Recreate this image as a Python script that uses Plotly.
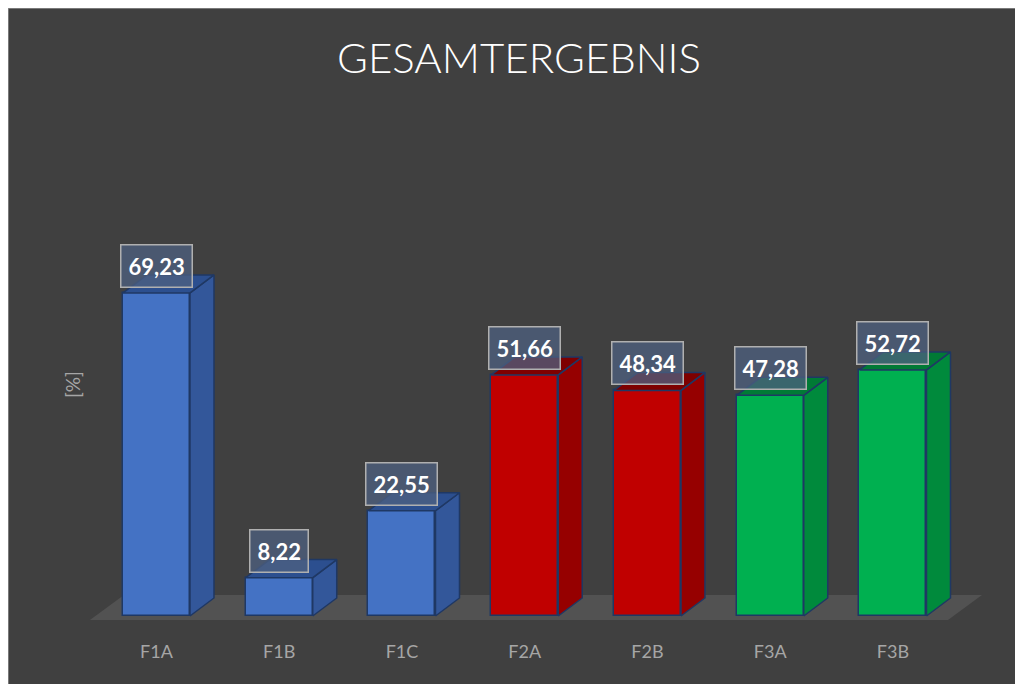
import plotly.graph_objects as go

# ---- data ----
categories = ["F1A", "F1B", "F1C", "F2A", "F2B", "F3A", "F3B"]
values = [69.23, 8.22, 22.55, 51.66, 48.34, 47.28, 52.72]
front_colors = ["#4472c4", "#4472c4", "#4472c4", "#c00000", "#c00000", "#00b050", "#00b050"]
side_colors = ["#33579a", "#33579a", "#33579a", "#960000", "#960000", "#008a3c", "#008a3c"]
top_colors = ["#2c4f8f", "#2c4f8f", "#2c4f8f", "#7e0000", "#7e0000", "#007a35", "#007a35"]
title_text = "GESAMTERGEBNIS"
y_title = "[%]"

# ---- geometry (pixel layout; page body adds an 8px offset) ----
OFF = 8
W_FIG, H_FIG = 1023 - OFF, 684 - OFF
M_L, M_T = 60 - OFF, 100 - OFF
PW, PH = 923, 530
M_R = W_FIG - M_L - PW
M_B = H_FIG - M_T - PH
X_RANGE = [-0.786, -0.786 + PW / 122.75]
Y_RANGE = [-3.0, -3.0 + PH / 4.667]
BAR_W = 0.546
DX = 0.1955      # depth offset in x units
DY = 3.86        # depth offset in y units
OUTLINE = "#1f3864"

xs = list(range(len(categories)))

fig = go.Figure()

# front faces
fig.add_trace(go.Bar(
    x=xs, y=values, width=BAR_W,
    marker=dict(color=front_colors, line=dict(color=OUTLINE, width=1.5)),
    hoverinfo="skip", showlegend=False,
))

# side and top faces
for i, v in enumerate(values):
    x0 = xs[i] - BAR_W / 2
    x1 = xs[i] + BAR_W / 2
    fig.add_trace(go.Scatter(
        x=[x1, x1 + DX, x1 + DX, x1, x1], y=[0, DY, v + DY, v, 0],
        fill="toself", fillcolor=side_colors[i], mode="lines",
        line=dict(color=OUTLINE, width=1.5), hoverinfo="skip", showlegend=False,
    ))
    fig.add_trace(go.Scatter(
        x=[x0, x1, x1 + DX, x0 + DX, x0], y=[v, v, v + DY, v + DY, v],
        fill="toself", fillcolor=top_colors[i], mode="lines",
        line=dict(color=OUTLINE, width=1.5), hoverinfo="skip", showlegend=False,
    ))

def px2paper_x(px):
    return (px - OFF - M_L) / PW

def px2paper_y(py):
    return (H_FIG - M_B - (py - OFF)) / PH

shapes = [
    # panel border
    dict(type="rect", xref="paper", yref="paper",
         x0=px2paper_x(OFF), x1=px2paper_x(1040),
         y0=px2paper_y(700), y1=px2paper_y(OFF),
         fillcolor="rgba(0,0,0,0)", line=dict(color="#8c8c8c", width=1.5), layer="below"),
]
# floor (parallelogram under bars)
n = len(categories)
fx0, fx1 = -0.542, (n - 1) + 0.448
fy0 = -0.857
fdx, fy1 = 0.277, 4.5
floor_path = (f"M {fx0},{fy0} L {fx1},{fy0} L {fx1 + fdx},{fy1} "
              f"L {fx0 + fdx},{fy1} Z")
shapes.append(dict(type="path", xref="x", yref="y", path=floor_path,
                   fillcolor="#525252", line=dict(width=0), layer="below"))

annotations = []
for i, v in enumerate(values):
    annotations.append(dict(
        x=xs[i], y=v, xref="x", yref="y", yshift=27,
        text=f"{v:.2f}".replace(".", ","), showarrow=False,
        font=dict(family="Lato", size=22, color="white", weight="bold"),
        bgcolor="rgba(78,96,128,0.75)", bordercolor="#b0b0b0", borderwidth=1.5,
        borderpad=7, xanchor="center", yanchor="middle",
    ))
annotations.append(dict(
    x=px2paper_x(72), y=px2paper_y(385), xref="paper", yref="paper",
    text=y_title, showarrow=False, textangle=-90,
    xanchor="center", yanchor="middle",
    font=dict(family="Lato", size=19, color="#a6a6a6"),
))

fig.update_layout(
    width=W_FIG, height=H_FIG,
    margin=dict(l=M_L, r=M_R, t=M_T, b=M_B),
    paper_bgcolor="#404040", plot_bgcolor="rgba(0,0,0,0)",
    title=dict(text=title_text, x=(519 - OFF) / W_FIG, xanchor="center",
               y=1 - (58 - OFF) / H_FIG, yanchor="middle", yref="container",
               font=dict(family="Lato", size=42, color="white", weight=300)),
    xaxis=dict(range=X_RANGE, tickvals=xs, ticktext=categories,
               showgrid=False, zeroline=False, showline=False, ticks="",
               tickfont=dict(family="Lato", size=18, color="#a6a6a6"),
               ticklabelstandoff=9, fixedrange=True),
    yaxis=dict(range=Y_RANGE, showgrid=False, zeroline=False, showline=False,
               showticklabels=False, ticks="", fixedrange=True),
    shapes=shapes, annotations=annotations,
    bargap=0,
)

fig.write_html("out.html")
